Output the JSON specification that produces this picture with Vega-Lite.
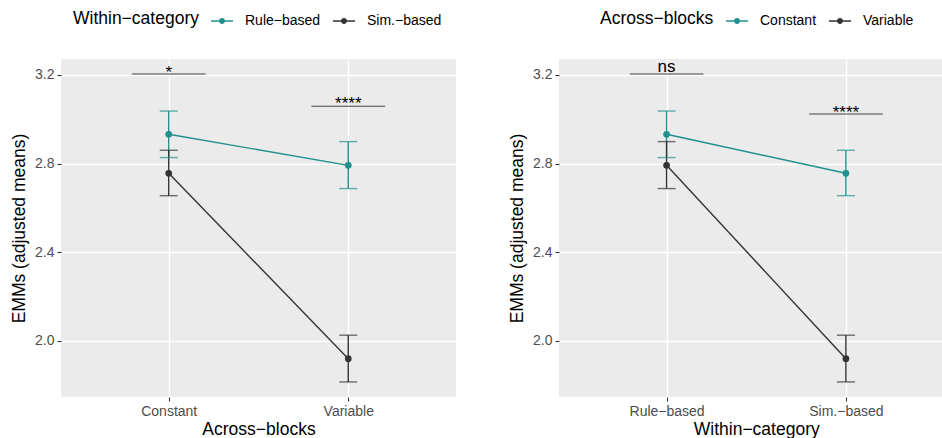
{
  "$schema": "https://vega.github.io/schema/vega-lite/v6.json",
  "background": "white",
  "padding": {"left": 10, "top": 10, "right": 0, "bottom": 0},
  "bounds": "flush",
  "spacing": 103,
  "config": {
    "font": "Liberation Sans",
    "view": {"fill": "#EBEBEB", "stroke": null},
    "axis": {
      "domain": false, "grid": true, "gridColor": "#FFFFFF", "gridWidth": 1.4,
      "tickColor": "#333333", "tickSize": 4, "tickWidth": 1.1,
      "labelFont": "Liberation Sans", "labelFontSize": 14, "labelColor": "#4D4D4D", "labelPadding": 3,
      "titleFont": "Liberation Sans", "titleFontSize": 17.5, "titleFontWeight": "normal", "titleColor": "#000000"
    },
    "legend": {
      "orient": "none", "direction": "horizontal", "titleOrient": "left",
      "titleFont": "Liberation Sans", "titleFontSize": 17.5, "titleFontWeight": "normal", "titleColor": "#000000",
      "labelFont": "Liberation Sans", "labelFontSize": 14, "labelColor": "#000000",
      "symbolStrokeWidth": 0, "symbolOpacity": 1, "labelOffset": 12, "columnPadding": 12, "titlePadding": 12, "padding": 0
    }
  },
  "datasets": {
    "emm": [
      {"within": "Rule−based", "across": "Constant", "emmean": 2.932, "lower": 2.827, "upper": 3.037},
      {"within": "Rule−based", "across": "Variable", "emmean": 2.792, "lower": 2.687, "upper": 2.899},
      {"within": "Sim.−based", "across": "Constant", "emmean": 2.756, "lower": 2.655, "upper": 2.860},
      {"within": "Sim.−based", "across": "Variable", "emmean": 1.919, "lower": 1.814, "upper": 2.025}
    ],
    "brackets_left": [
      {"across": "Constant", "y": 3.2045, "label": "*", "label_y": 3.1865},
      {"across": "Variable", "y": 3.059, "label": "****", "label_y": 3.0465}
    ],
    "brackets_right": [
      {"within": "Rule−based", "y": 3.2045, "label": "ns", "label_y": 3.215},
      {"within": "Sim.−based", "y": 3.024, "label": "****", "label_y": 3.006}
    ]
  },
  "hconcat": [
    {
      "width": 395,
      "height": 338,
      "encoding": {
        "x": {"field": "across", "type": "ordinal",
              "scale": {"type": "point", "padding": 0.6, "domain": ["Constant", "Variable"]},
              "axis": {"title": "Across−blocks", "labelAngle": 0, "titlePadding": 2}}
      },
      "layer": [
        {
          "data": {"name": "emm"},
          "mark": {"type": "rule", "strokeWidth": 1.4},
          "encoding": {
            "y": {"field": "lower", "type": "quantitative",
                  "scale": {"domain": [1.746, 3.272], "nice": false, "zero": false},
                  "axis": {"title": "EMMs (adjusted means)", "values": [2.0, 2.4, 2.8, 3.2], "format": ".1f", "titlePadding": 6}},
            "y2": {"field": "upper"},
            "color": {"field": "within", "type": "nominal",
                      "scale": {"domain": ["Rule−based", "Sim.−based"], "range": ["#21908C", "#333333"]},
                      "legend": {"title": "Within−category", "legendX": 12, "legendY": -49,
                                 "symbolType": "M-1,-0.065H1V0.065H-1Z M-0.27,0A0.27,0.27 0 1,1 0.27,0A0.27,0.27 0 1,1 -0.27,0Z",
                                 "symbolSize": 484}}
          }
        },
        {
          "data": {"name": "emm"},
          "mark": {"type": "tick", "size": 18, "thickness": 1.4},
          "encoding": {
            "y": {"field": "lower", "type": "quantitative", "axis": null},
            "color": {"field": "within", "type": "nominal"}
          }
        },
        {
          "data": {"name": "emm"},
          "mark": {"type": "tick", "size": 18, "thickness": 1.4},
          "encoding": {
            "y": {"field": "upper", "type": "quantitative", "axis": null},
            "color": {"field": "within", "type": "nominal"}
          }
        },
        {
          "data": {"name": "emm"},
          "mark": {"type": "line", "strokeWidth": 1.4},
          "encoding": {
            "y": {"field": "emmean", "type": "quantitative", "axis": null},
            "color": {"field": "within", "type": "nominal"}
          }
        },
        {
          "data": {"name": "emm"},
          "mark": {"type": "point", "filled": true, "size": 45, "opacity": 1},
          "encoding": {
            "y": {"field": "emmean", "type": "quantitative", "axis": null},
            "color": {"field": "within", "type": "nominal"}
          }
        },
        {
          "data": {"name": "brackets_left"},
          "mark": {"type": "tick", "size": 73.7, "thickness": 1.1, "color": "#000000"},
          "encoding": {
            "y": {"field": "y", "type": "quantitative", "axis": null}
          }
        },
        {
          "data": {"name": "brackets_left"},
          "mark": {"type": "text", "fontSize": 17, "color": "#000000", "baseline": "alphabetic", "font": "Liberation Sans"},
          "encoding": {
            "y": {"field": "label_y", "type": "quantitative", "axis": null},
            "text": {"field": "label", "type": "nominal"}
          }
        },
        {
          "data": {"name": "emm"},
          "mark": {"type": "point", "opacity": 0},
          "encoding": {
            "y": {"field": "emmean", "type": "quantitative",
                  "axis": {"orient": "right", "values": [1.8, 2.2, 2.6, 3.0], "gridWidth": 0.7, "labels": false, "ticks": false, "domain": false, "title": null}}
          }
        }
      ],
      "resolve": {"axis": {"y": "independent"}}
    },
    {
      "width": 383,
      "height": 338,
      "encoding": {
        "x": {"field": "within", "type": "ordinal",
              "scale": {"type": "point", "padding": 0.6, "domain": ["Rule−based", "Sim.−based"], "range": [0, 394.5]},
              "axis": {"title": "Within−category", "labelAngle": 0, "titlePadding": 2}}
      },
      "layer": [
        {
          "data": {"name": "emm"},
          "mark": {"type": "rule", "strokeWidth": 1.4},
          "encoding": {
            "y": {"field": "lower", "type": "quantitative",
                  "scale": {"domain": [1.746, 3.272], "nice": false, "zero": false},
                  "axis": {"title": "EMMs (adjusted means)", "values": [2.0, 2.4, 2.8, 3.2], "format": ".1f", "titlePadding": 6}},
            "y2": {"field": "upper"},
            "color": {"field": "across", "type": "nominal",
                      "scale": {"domain": ["Constant", "Variable"], "range": ["#21908C", "#333333"]},
                      "legend": {"title": "Across−blocks", "legendX": 41, "legendY": -49,
                                 "symbolType": "M-1,-0.065H1V0.065H-1Z M-0.27,0A0.27,0.27 0 1,1 0.27,0A0.27,0.27 0 1,1 -0.27,0Z",
                                 "symbolSize": 484}}
          }
        },
        {
          "data": {"name": "emm"},
          "mark": {"type": "tick", "size": 18, "thickness": 1.4},
          "encoding": {
            "y": {"field": "lower", "type": "quantitative", "axis": null},
            "color": {"field": "across", "type": "nominal"}
          }
        },
        {
          "data": {"name": "emm"},
          "mark": {"type": "tick", "size": 18, "thickness": 1.4},
          "encoding": {
            "y": {"field": "upper", "type": "quantitative", "axis": null},
            "color": {"field": "across", "type": "nominal"}
          }
        },
        {
          "data": {"name": "emm"},
          "mark": {"type": "line", "strokeWidth": 1.4},
          "encoding": {
            "y": {"field": "emmean", "type": "quantitative", "axis": null},
            "color": {"field": "across", "type": "nominal"}
          }
        },
        {
          "data": {"name": "emm"},
          "mark": {"type": "point", "filled": true, "size": 45, "opacity": 1},
          "encoding": {
            "y": {"field": "emmean", "type": "quantitative", "axis": null},
            "color": {"field": "across", "type": "nominal"}
          }
        },
        {
          "data": {"name": "brackets_right"},
          "mark": {"type": "tick", "size": 73.7, "thickness": 1.1, "color": "#000000"},
          "encoding": {
            "y": {"field": "y", "type": "quantitative", "axis": null}
          }
        },
        {
          "data": {"name": "brackets_right"},
          "mark": {"type": "text", "fontSize": 17, "color": "#000000", "baseline": "alphabetic", "font": "Liberation Sans"},
          "encoding": {
            "y": {"field": "label_y", "type": "quantitative", "axis": null},
            "text": {"field": "label", "type": "nominal"}
          }
        },
        {
          "data": {"name": "emm"},
          "mark": {"type": "point", "opacity": 0},
          "encoding": {
            "y": {"field": "emmean", "type": "quantitative",
                  "axis": {"orient": "right", "values": [1.8, 2.2, 2.6, 3.0], "gridWidth": 0.7, "labels": false, "ticks": false, "domain": false, "title": null}}
          }
        }
      ],
      "resolve": {"axis": {"y": "independent"}}
    }
  ],
  "resolve": {"scale": {"color": "independent", "x": "independent", "y": "independent"}}
}
